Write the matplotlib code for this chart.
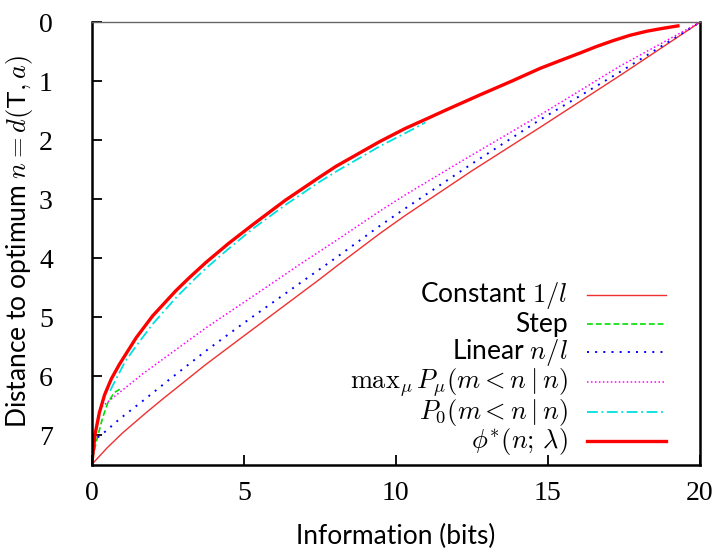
import matplotlib
matplotlib.use("Agg")
import matplotlib.pyplot as plt

plt.rcParams["mathtext.fontset"] = "cm"
plt.rcParams["font.family"] = ["Lato", "DejaVu Sans"]

# Constant 1/l
const_x = [0, 0.5, 1.0, 1.79, 2.33, 3.76, 5.0, 7.49, 8.04, 9.48, 10.3, 12.5, 14.75, 17.38, 20]
const_y = [7.5, 7.22, 6.97, 6.62, 6.39, 5.80, 5.32, 4.36, 4.14, 3.58, 3.28, 2.52, 1.78, 0.90, 0]

# Step
step_x = [0.02, 0.2, 0.36, 0.53, 0.74, 1.0]
step_y = [7.4, 7.01, 6.70, 6.45, 6.28, 6.20]

# Linear n/l
lin_x = [0.03, 0.2, 0.47, 0.91, 1.68, 2.5, 3.76, 5.0, 7.05, 8.04, 9.48, 10.3, 12.5, 14.75, 17.38, 20]
lin_y = [7.15, 7.04, 6.93, 6.73, 6.42, 6.08, 5.57, 5.10, 4.35, 3.99, 3.45, 3.16, 2.40, 1.65, 0.84, 0]

# max_mu P_mu(m < n | n)
maxp_x = [0.33, 0.69, 0.91, 1.68, 2.0, 3.76, 5.0, 6.12, 6.80, 8.04, 9.48, 10.3, 12.11, 14.75, 17.38, 20]
maxp_y = [6.52, 6.37, 6.28, 5.96, 5.84, 5.18, 4.75, 4.36, 4.12, 3.70, 3.20, 2.93, 2.37, 1.57, 0.74, 0]

# P_0(m < n | n)
p0_x = [0.6, 0.8, 1.1, 1.46, 2.0, 2.77, 3.43, 3.76, 4.5, 5.3, 6.36, 7.45, 8.04, 9.48, 10.31, 10.97]
p0_y = [6.25, 6.05, 5.75, 5.49, 5.12, 4.67, 4.33, 4.17, 3.84, 3.50, 3.10, 2.72, 2.53, 2.10, 1.88, 1.70]

# phi*(n; lambda)
phi_x = [0, 0.11, 0.25, 0.42, 0.64, 0.91, 1.46, 2.0, 2.77, 3.21, 3.76, 4.5, 5.3, 6.36,
         7.45, 8.04, 9.0, 9.48, 10.31, 11.0, 11.68, 12.77, 13.8, 14.75, 15.4, 16.06,
         16.6, 17.15, 17.7, 18.26, 18.8, 19.28]
phi_y = [7.5, 6.98, 6.62, 6.32, 6.05, 5.80, 5.35, 4.98, 4.55, 4.33, 4.07, 3.75, 3.43, 3.02,
         2.64, 2.44, 2.16, 2.02, 1.80, 1.64, 1.48, 1.23, 1.00, 0.78, 0.65, 0.52,
         0.41, 0.31, 0.22, 0.15, 0.10, 0.06]

x_ticks = [0, 5, 10, 15, 20]
y_ticks = [0, 1, 2, 3, 4, 5, 6, 7]

labels = [
    r"Constant $1/l$",
    "Step",
    r"Linear $n/l$",
    r"$\mathrm{max}_{\mu}\, P_{\mu}(m < n \mid n)$",
    r"$P_0(m < n \mid n)$",
    r"$\phi^{*}(n;\, \lambda)$",
]
styles = [
    dict(color="#f03030", lw=1.0, ls="-"),
    dict(color="#00e000", lw=1.2, ls=(0, (3.5, 1.8))),
    dict(color="#0000ff", lw=1.4, ls=(0, (1, 3.2))),
    dict(color="#ff00ff", lw=1.1, ls=(0, (1, 1.6))),
    dict(color="#00e0e0", lw=1.3, ls=(0, (6, 2, 1, 2))),
    dict(color="#ff0000", lw=2.4, ls="-"),
]
series = [(const_x, const_y), (step_x, step_y), (lin_x, lin_y),
          (maxp_x, maxp_y), (p0_x, p0_y), (phi_x, phi_y)]

fig = plt.figure(figsize=(7.17, 5.52), dpi=100)
ax = fig.add_axes([0.128, 0.1585, 0.848, 0.801])

for (xs, ys), st in zip(series, styles):
    ax.plot(xs, ys, **st)

ax.set_xlim(0, 20)
ax.set_ylim(7.5, 0)
ax.set_xticks(x_ticks)
ax.set_yticks(y_ticks)
ax.tick_params(direction="in", length=7, width=1.3, top=False, right=False)
ax.tick_params(axis="y", pad=28)
ax.tick_params(axis="x", pad=12)
for t in ax.get_xticklabels() + ax.get_yticklabels():
    t.set_fontfamily("Liberation Serif")
    t.set_fontsize(20)

for side in ("left", "bottom", "right"):
    ax.spines[side].set_linewidth(1.8)
    ax.spines[side].set_color("black")
ax.spines["top"].set_linewidth(1.0)
ax.spines["top"].set_color("#666666")

ax.set_xlabel("Information (bits)", fontsize=19, labelpad=13)
ax.set_ylabel(r"Distance to optimum $n = d(\mathsf{T}, a)$", fontsize=19)
ax.yaxis.set_label_coords(-0.094, 0.505)

# key, drawn right-aligned with samples on the right
row_px = [295, 324, 352, 382, 412, 441]
for lab, st, py in zip(labels, styles, row_px):
    ya = 1 - (py - 22.3) / 442.2
    ax.text((568 - 91.7) / 608.3, ya, lab, transform=ax.transAxes,
            ha="right", va="center", fontsize=19)
    ax.plot([(587 - 91.7) / 608.3, (666 - 91.7) / 608.3], [ya, ya],
            transform=ax.transAxes, **st)

fig.savefig("out.png", dpi=100)
